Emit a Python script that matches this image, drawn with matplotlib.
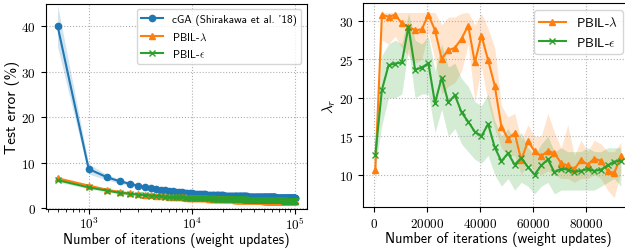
import numpy as np
import matplotlib
matplotlib.use('Agg')
import matplotlib.pyplot as plt
from matplotlib.ticker import FuncFormatter

# ---- left panel: test error vs. iterations (every 500 updates) ----
iters_left = np.arange(1, 201) * 500

cga_err = [40.1, 8.65, 6.85, 5.95, 5.4, 5.0, 4.7, 4.45, 4.25, 4.1,
           3.95, 3.85, 3.75, 3.66, 3.58, 3.52, 3.46, 3.4, 3.35, 3.3,
           3.26, 3.22, 3.19, 3.15, 3.12, 3.09, 3.07, 3.04, 3.02, 3.0,
           2.98, 2.96, 2.94, 2.92, 2.91, 2.89, 2.88, 2.86, 2.85, 2.84,
           2.82, 2.81, 2.80, 2.79, 2.78, 2.77, 2.76, 2.75, 2.74, 2.73,
           2.72, 2.71, 2.71, 2.70, 2.69, 2.68, 2.68, 2.67, 2.66, 2.66,
           2.65, 2.64, 2.64, 2.63, 2.62, 2.62, 2.61, 2.61, 2.60, 2.60,
           2.59, 2.59, 2.58, 2.58, 2.57, 2.57, 2.56, 2.56, 2.55, 2.55,
           2.54, 2.54, 2.53, 2.53, 2.53, 2.52, 2.52, 2.51, 2.51, 2.51,
           2.50, 2.50, 2.49, 2.49, 2.49, 2.48, 2.48, 2.48, 2.47, 2.47,
           2.47, 2.46, 2.46, 2.46, 2.45, 2.45, 2.45, 2.44, 2.44, 2.44,
           2.43, 2.43, 2.43, 2.42, 2.42, 2.42, 2.42, 2.41, 2.41, 2.41,
           2.40, 2.40, 2.40, 2.40, 2.39, 2.39, 2.39, 2.39, 2.38, 2.38,
           2.38, 2.38, 2.37, 2.37, 2.37, 2.37, 2.36, 2.36, 2.36, 2.36,
           2.35, 2.35, 2.35, 2.35, 2.35, 2.34, 2.34, 2.34, 2.34, 2.33,
           2.33, 2.33, 2.33, 2.33, 2.32, 2.32, 2.32, 2.32, 2.32, 2.31,
           2.31, 2.31, 2.31, 2.31, 2.30, 2.30, 2.30, 2.30, 2.30, 2.30,
           2.29, 2.29, 2.29, 2.29, 2.29, 2.28, 2.28, 2.28, 2.28, 2.28,
           2.28, 2.27, 2.27, 2.27, 2.27, 2.27, 2.27, 2.26, 2.26, 2.26,
           2.26, 2.26, 2.26, 2.25, 2.25, 2.25, 2.25, 2.25, 2.25, 2.24]

lam_err = [6.6, 5.0, 4.1, 3.6, 3.3, 3.1, 2.95, 2.85, 2.75, 2.68,
           2.62, 2.57, 2.52, 2.48, 2.45, 2.42, 2.39, 2.36, 2.34, 2.32,
           2.30, 2.28, 2.26, 2.24, 2.22, 2.21, 2.19, 2.18, 2.16, 2.15,
           2.14, 2.13, 2.11, 2.10, 2.09, 2.08, 2.07, 2.06, 2.05, 2.04,
           2.03, 2.02, 2.01, 2.00, 1.99, 1.98, 1.98, 1.97, 1.96, 1.95,
           1.95, 1.94, 1.93, 1.93, 1.92, 1.91, 1.91, 1.90, 1.89, 1.89,
           1.88, 1.88, 1.87, 1.87, 1.86, 1.86, 1.85, 1.85, 1.84, 1.84,
           1.83, 1.83, 1.82, 1.82, 1.82, 1.81, 1.81, 1.80, 1.80, 1.80,
           1.79, 1.79, 1.78, 1.78, 1.78, 1.77, 1.77, 1.77, 1.76, 1.76,
           1.76, 1.75, 1.75, 1.75, 1.74, 1.74, 1.74, 1.73, 1.73, 1.73,
           1.72, 1.72, 1.72, 1.71, 1.71, 1.71, 1.71, 1.70, 1.70, 1.70,
           1.69, 1.69, 1.69, 1.69, 1.68, 1.68, 1.68, 1.68, 1.67, 1.67,
           1.67, 1.67, 1.66, 1.66, 1.66, 1.66, 1.65, 1.65, 1.65, 1.65,
           1.64, 1.64, 1.64, 1.64, 1.64, 1.63, 1.63, 1.63, 1.63, 1.62,
           1.62, 1.62, 1.62, 1.62, 1.61, 1.61, 1.61, 1.61, 1.61, 1.60,
           1.60, 1.60, 1.60, 1.60, 1.59, 1.59, 1.59, 1.59, 1.59, 1.59,
           1.58, 1.58, 1.58, 1.58, 1.58, 1.58, 1.57, 1.57, 1.57, 1.57,
           1.57, 1.57, 1.56, 1.56, 1.56, 1.56, 1.56, 1.56, 1.56, 1.55,
           1.55, 1.55, 1.55, 1.55, 1.55, 1.55, 1.54, 1.54, 1.54, 1.54,
           1.54, 1.54, 1.54, 1.53, 1.53, 1.53, 1.53, 1.53, 1.53, 1.53]

eps_err = [6.2, 4.6, 3.9, 3.4, 3.2, 3.0, 2.88, 2.79, 2.71, 2.65,
           2.59, 2.54, 2.50, 2.47, 2.44, 2.41, 2.38, 2.36, 2.34, 2.32,
           2.30, 2.28, 2.27, 2.25, 2.24, 2.22, 2.21, 2.20, 2.19, 2.18,
           2.17, 2.16, 2.15, 2.14, 2.13, 2.12, 2.11, 2.10, 2.10, 2.09,
           2.08, 2.07, 2.07, 2.06, 2.05, 2.05, 2.04, 2.03, 2.03, 2.02,
           2.02, 2.01, 2.00, 2.00, 1.99, 1.99, 1.98, 1.98, 1.97, 1.97,
           1.96, 1.96, 1.95, 1.95, 1.95, 1.94, 1.94, 1.93, 1.93, 1.93,
           1.92, 1.92, 1.91, 1.91, 1.91, 1.90, 1.90, 1.90, 1.89, 1.89,
           1.89, 1.88, 1.88, 1.88, 1.87, 1.87, 1.87, 1.87, 1.86, 1.86,
           1.86, 1.85, 1.85, 1.85, 1.85, 1.84, 1.84, 1.84, 1.84, 1.83,
           1.83, 1.83, 1.83, 1.82, 1.82, 1.82, 1.82, 1.81, 1.81, 1.81,
           1.81, 1.80, 1.80, 1.80, 1.80, 1.80, 1.79, 1.79, 1.79, 1.79,
           1.79, 1.78, 1.78, 1.78, 1.78, 1.78, 1.77, 1.77, 1.77, 1.77,
           1.77, 1.76, 1.76, 1.76, 1.76, 1.76, 1.76, 1.75, 1.75, 1.75,
           1.75, 1.75, 1.75, 1.74, 1.74, 1.74, 1.74, 1.74, 1.74, 1.73,
           1.73, 1.73, 1.73, 1.73, 1.73, 1.73, 1.72, 1.72, 1.72, 1.72,
           1.72, 1.72, 1.72, 1.71, 1.71, 1.71, 1.71, 1.71, 1.71, 1.71,
           1.70, 1.70, 1.70, 1.70, 1.70, 1.70, 1.70, 1.70, 1.69, 1.69,
           1.69, 1.69, 1.69, 1.69, 1.69, 1.69, 1.68, 1.68, 1.68, 1.68,
           1.68, 1.68, 1.68, 1.68, 1.68, 1.67, 1.67, 1.67, 1.67, 1.67]

# spread (std) of the runs; later points read as a roughly constant width
cga_sd = [4.6, 1.1, 0.6, 0.45, 0.4, 0.35, 0.33, 0.3, 0.3, 0.3] + [0.28] * 190
lam_sd = [0.4, 0.3, 0.25, 0.22, 0.2, 0.2, 0.2, 0.2, 0.2, 0.2] + [0.22] * 190
eps_sd = [0.4, 0.3, 0.25, 0.22, 0.2, 0.2, 0.2, 0.2, 0.2, 0.2] + [0.22] * 190

# ---- right panel: lambda_r vs. iterations (every 2500 updates) ----
iters_right = 500 + np.arange(38) * 2500

lam_r = [10.65, 30.8, 30.56, 30.8, 29.7, 29.26, 28.8, 28.9, 30.8, 28.8,
         25.1, 26.2, 26.5, 27.7, 29.4, 24.6, 28.1, 24.9, 21.6, 16.26,
         14.7, 15.4, 11.9, 14.35, 13.1, 12.4, 13.1, 12.8, 11.5, 11.2,
         10.7, 11.95, 11.3, 12.1, 11.8, 10.5, 10.2, 12.4]
lam_lo = [8.0, 27.5, 27.0, 28.0, 26.5, 25.5, 24.5, 25.0, 28.5, 25.0,
          20.5, 21.5, 22.0, 23.5, 27.0, 19.5, 24.0, 19.5, 16.0, 13.5,
          12.5, 12.5, 10.0, 11.5, 10.5, 10.0, 10.5, 10.0, 9.5, 9.5,
          9.0, 9.5, 9.5, 10.0, 9.5, 8.0, 7.0, 10.5]
lam_hi = [13.0, 31.1, 31.1, 31.1, 31.1, 31.1, 31.1, 31.1, 31.1, 31.1,
          29.5, 30.5, 30.5, 31.0, 31.1, 29.5, 31.0, 29.0, 26.5, 19.0,
          17.5, 18.0, 14.5, 16.5, 15.0, 15.0, 18.0, 15.5, 13.5, 16.5,
          12.5, 14.5, 13.0, 14.5, 14.0, 13.0, 13.0, 14.2]

eps_r = [12.55, 21.04, 24.24, 24.46, 24.6, 29.26, 23.64, 23.94, 24.5, 19.3,
         22.64, 19.4, 20.35, 18.1, 16.9, 15.6, 15.0, 16.6, 13.56, 11.74,
         12.8, 11.3, 12.2, 11.0, 10.0, 11.2, 12.0, 10.3, 10.8, 10.65,
         10.4, 10.5, 10.75, 10.5, 10.65, 11.2, 11.7, 11.8]
eps_lo = [11.0, 16.5, 20.0, 20.0, 20.5, 26.5, 20.0, 20.5, 20.5, 15.5,
          18.5, 15.0, 16.0, 14.0, 13.0, 12.0, 11.5, 12.5, 10.0, 8.5,
          9.5, 8.0, 9.0, 8.5, 7.5, 8.5, 9.0, 7.5, 8.0, 8.0,
          8.0, 8.0, 8.0, 8.0, 8.5, 9.0, 9.5, 8.5]
eps_hi = [14.0, 25.5, 27.0, 27.5, 27.0, 31.0, 27.5, 27.0, 28.0, 23.5,
          27.0, 24.0, 24.5, 22.5, 21.5, 19.5, 19.0, 20.5, 17.0, 15.0,
          16.0, 14.5, 15.5, 13.5, 12.5, 14.0, 15.0, 13.0, 13.5, 13.0,
          13.0, 13.0, 13.5, 13.0, 13.0, 13.5, 13.5, 13.5]

#~~~~~~~~~~~~~~~~~~~~~~~~~~~~~~~~~~~~~~~~~~~~~~~~~~~~~~~~~~~~~~~~~~~~~~~~~~~~~~~~

plt.rcParams['mathtext.fontset'] = 'cm'
plt.rcParams['font.family'] = 'cmr10'
plt.rcParams['axes.formatter.use_mathtext'] = True
plt.rcParams['axes.unicode_minus'] = False

blue, orange, green = '#1f77b4', '#ff7f0e', '#2ca02c'
sans = 'cmss10'

fig = plt.figure(figsize=(6.25, 2.51), dpi=100)
ax1 = fig.add_axes([0.0731, 0.1633, 0.4181, 0.818])
ax2 = fig.add_axes([0.5808, 0.1713, 0.4322, 0.8117])

# left
cga = np.array(cga_err); lam = np.array(lam_err); eps = np.array(eps_err)
ax1.fill_between(iters_left, cga - cga_sd, cga + cga_sd, color=blue, alpha=0.2, lw=0)
ax1.fill_between(iters_left, lam - lam_sd, lam + lam_sd, color=orange, alpha=0.2, lw=0)
ax1.fill_between(iters_left, eps - eps_sd, eps + eps_sd, color=green, alpha=0.2, lw=0)
ax1.plot(iters_left, cga, '-o', color=blue, ms=4.5, lw=1.5,
         label="cGA (Shirakawa et al. '18)")
ax1.plot(iters_left, lam, '-^', color=orange, ms=4.5, lw=1.5, label=r'PBIL-$\lambda$')
ax1.plot(iters_left, eps, '-x', color=green, ms=4, lw=1.5, label=r'PBIL-$\epsilon$')
ax1.set_xscale('log')
ax1.set_ylim(-0.15, 45)
ax1.set_yticks([0, 10, 20, 30, 40])
ax1.xaxis.set_major_formatter(FuncFormatter(lambda v, p: r'$10^{%d}$' % round(np.log10(v))))
ax1.tick_params(axis='x', which='major', pad=1.5)
ax1.set_xlabel('Number of iterations (weight updates)', family=sans, fontsize=10.2)
ax1.set_ylabel('Test error (%)', family=sans, fontsize=11)
ax1.xaxis.set_label_coords(0.5, -0.11)
ax1.yaxis.set_label_coords(-0.097, 0.5)
ax1.grid(True, linestyle=':', color='#b0b0b0', lw=0.8)
ax1.legend(loc='upper right', prop={'family': sans, 'size': 8})

# right
ax2.fill_between(iters_right, lam_lo, lam_hi, color=orange, alpha=0.2, lw=0)
ax2.fill_between(iters_right, eps_lo, eps_hi, color=green, alpha=0.2, lw=0)
ax2.plot(iters_right, lam_r, '-^', color=orange, ms=5, lw=1.5, label=r'PBIL-$\lambda$')
ax2.plot(iters_right, eps_r, '-x', color=green, ms=4, lw=1.5, label=r'PBIL-$\epsilon$')
ax2.set_xlim(-4125, 97625)
ax2.set_ylim(5.8, 32.3)
ax2.set_xticks([0, 20000, 40000, 60000, 80000])
ax2.set_yticks([10, 15, 20, 25, 30])
ax2.set_xlabel('Number of iterations (weight updates)', family=sans, fontsize=10.2)
ax2.set_ylabel(r'$\lambda_r$', fontsize=11)
ax2.xaxis.set_label_coords(0.5, -0.118)
ax2.yaxis.set_label_coords(-0.093, 0.5)
ax2.grid(True, linestyle=':', color='#b0b0b0', lw=0.8)
ax2.legend(loc='upper right', bbox_to_anchor=(0.987, 1.0), prop={'family': sans, 'size': 9.5})

for ax in (ax1, ax2):
    ax.tick_params(labelsize=9.5)

plt.savefig('out.png', dpi=100)
